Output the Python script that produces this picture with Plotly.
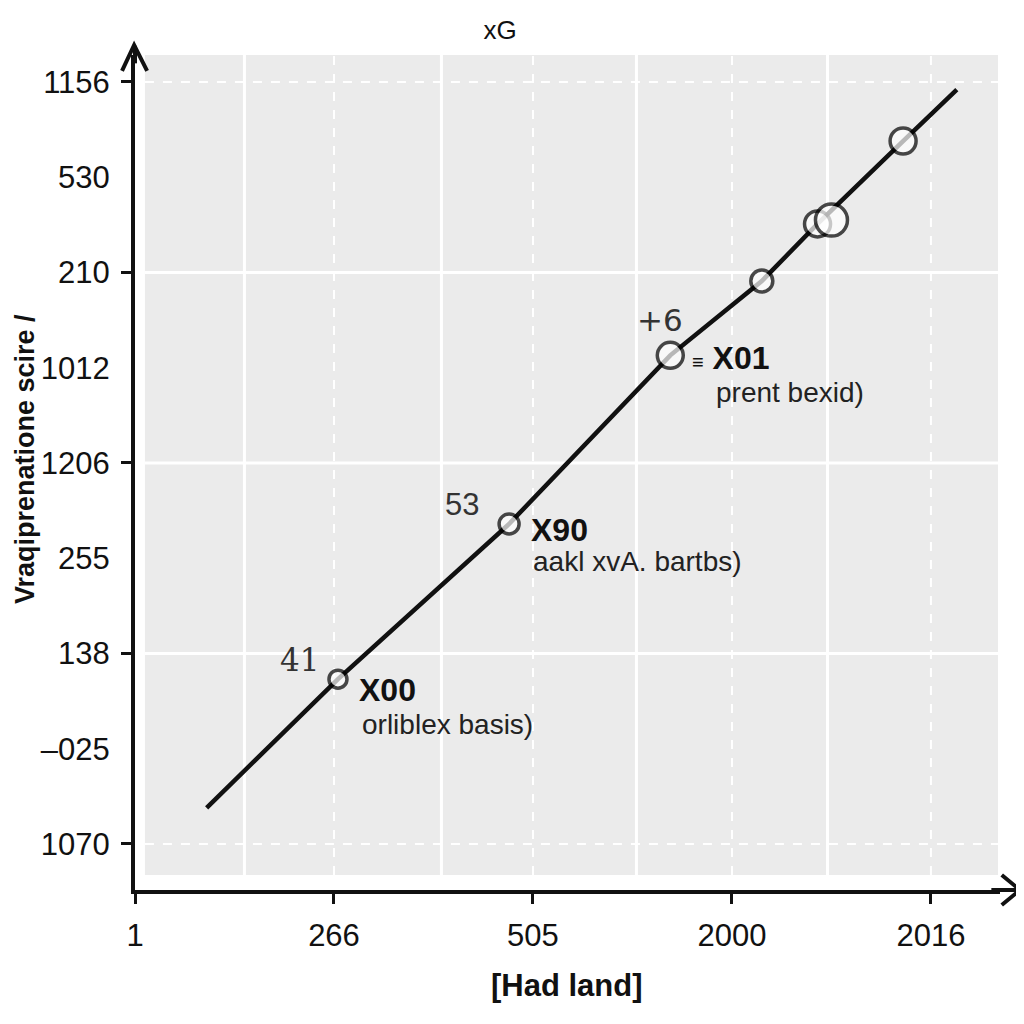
import plotly.graph_objects as go

# ---------------- data ----------------
y_tick_labels = ["1070", "\u2013025", "138", "255", "1206", "1012", "210", "530", "1156"]
x_tick_labels = ["1", "266", "505", "2000", "2016"]

line_x = [0.36, 1.02, 1.88, 2.69, 3.15, 3.43, 3.86, 4.13]
line_y = [0.38, 1.73, 3.36, 5.13, 5.91, 6.51, 7.38, 7.92]

point_x = [1.02, 1.88, 2.69, 3.15, 3.43, 3.50, 3.86]
point_y = [1.73, 3.36, 5.13, 5.91, 6.51, 6.55, 7.38]
point_size = [18, 20, 26, 22, 26, 32, 26]

labels_num = ["41", "53", "+6"]
labels_code = ["X00", "X90", "X01"]
labels_desc = ["orliblex basis)", "aakl xvA. bartbs)", "prent bexid)"]

grid_solid_x = [0.55, 1.54, 2.52, 3.48]
grid_dash_x = [1, 2, 3, 4]
grid_solid_y = [2, 4, 6]
grid_dash_y = [0, 8]

title_text = "xG"
x_title = "[Had land]"
y_title = "Vraqiprenatione scire /"

# ---------------- figure ----------------
FONT = "Liberation Sans, Arial, sans-serif"
INK = "#111111"

fig = go.Figure()

fig.add_trace(go.Scatter(x=line_x, y=line_y, mode="lines",
                         line=dict(color=INK, width=4.5), hoverinfo="skip",
                         showlegend=False))
fig.add_trace(go.Scatter(x=point_x, y=point_y, mode="markers",
                         marker=dict(size=point_size, color="white",
                                     line=dict(color="#000000", width=3.5)),
                         showlegend=False))

X_RANGE = [0, 4.347]
Y_RANGE = [-0.483, 8.283]

shapes = []
# grey panel
shapes.append(dict(type="rect", xref="x", yref="y", x0=0.05, x1=4.337,
                   y0=-0.325, y1=Y_RANGE[1], fillcolor="#ebebeb",
                   line=dict(width=0), layer="below"))
for gx in grid_solid_x:
    shapes.append(dict(type="line", xref="x", yref="y", x0=gx, x1=gx,
                       y0=-0.325, y1=Y_RANGE[1],
                       line=dict(color="white", width=3), layer="below"))
for gx in grid_dash_x:
    shapes.append(dict(type="line", xref="x", yref="y", x0=gx, x1=gx,
                       y0=-0.325, y1=Y_RANGE[1],
                       line=dict(color="white", width=2, dash="dash"), layer="below"))
for gy in grid_solid_y:
    shapes.append(dict(type="line", xref="x", yref="y", x0=0.05, x1=4.337,
                       y0=gy, y1=gy,
                       line=dict(color="white", width=3), layer="below"))
for gy in grid_dash_y:
    shapes.append(dict(type="line", xref="x", yref="y", x0=0.05, x1=4.337,
                       y0=gy, y1=gy,
                       line=dict(color="white", width=2, dash="dash"), layer="below"))

# axis arrows (paper coords)
shapes.append(dict(type="line", xref="paper", yref="paper", x0=0, x1=0,
                   y0=0.99, y1=1.011, line=dict(color=INK, width=4)))
shapes.append(dict(type="path", xref="paper", yref="paper",
                   path="M -0.015 0.981 L -0.001 1.012 L 0.014 0.981",
                   line=dict(color=INK, width=4)))
shapes.append(dict(type="line", xref="paper", yref="paper", x0=0.99, x1=1.022,
                   y0=0, y1=0, line=dict(color=INK, width=4)))
shapes.append(dict(type="path", xref="paper", yref="paper",
                   path="M 1.002 0.018 L 1.023 0 L 1.002 -0.018",
                   line=dict(color=INK, width=4)))

annotations = []
num_shift = [(-38, 19), (-47, 19), (-10, 35)]
code_shift = [(19, -11), (20, -6), (20, -3)]
desc_shift = [(22, -45), (22, -38), (44, -37)]
num_fonts = ["DejaVu Serif", FONT, "DejaVu Sans"]
for k in range(len(labels_code)):
    px_, py_ = point_x[k], point_y[k]
    annotations.append(dict(x=px_, y=py_, xref="x", yref="y", text=labels_num[k],
                            showarrow=False, xshift=num_shift[k][0],
                            yshift=num_shift[k][1],
                            font=dict(family=num_fonts[k], size=31, color="#333333")))
    code_txt = "<b>" + labels_code[k] + "</b>"
    if k == 2:
        code_txt = "<span style='font-size:20px'>\u2261</span> " + code_txt
    annotations.append(dict(x=px_, y=py_, xref="x", yref="y", text=code_txt,
                            showarrow=False, xanchor="left",
                            xshift=code_shift[k][0], yshift=code_shift[k][1],
                            font=dict(family=FONT, size=32, color=INK)))
    annotations.append(dict(x=px_, y=py_, xref="x", yref="y", text=labels_desc[k],
                            showarrow=False, xanchor="left",
                            xshift=desc_shift[k][0], yshift=desc_shift[k][1],
                            font=dict(family=FONT, size=28, color="#222222")))

# axis titles
annotations.append(dict(x=-0.1272, y=0.516, xref="paper", yref="paper",
                        text="<b>" + y_title + "</b>", textangle=-90,
                        showarrow=False, xanchor="center", yanchor="middle",
                        font=dict(family=FONT, size=27, color=INK)))
annotations.append(dict(x=0.499, y=-0.114, xref="paper", yref="paper",
                        text="<b>" + x_title + "</b>",
                        showarrow=False, xanchor="center", yanchor="middle",
                        font=dict(family="Liberation Sans Narrow, Arial Narrow, " + FONT,
                                  size=31, color=INK)))

fig.update_layout(
    width=1024, height=1024,
    margin=dict(l=127, r=32, t=47, b=142),
    paper_bgcolor="white", plot_bgcolor="white",
    title=dict(text=title_text, x=0.422, xref="paper", y=0.9785, yref="container",
               xanchor="center", yanchor="middle",
               font=dict(family=FONT, size=26, color=INK)),
    shapes=shapes, annotations=annotations,
    showlegend=False,
    xaxis=dict(range=X_RANGE, tickmode="array", tickvals=list(range(len(x_tick_labels))),
               ticktext=x_tick_labels, showgrid=False, zeroline=False,
               showline=True, linecolor=INK, linewidth=4, automargin=False,
               ticks="outside", ticklen=10, tickwidth=3, tickcolor=INK,
               ticklabelstandoff=5,
               tickfont=dict(family=FONT, size=31, color=INK)),
    yaxis=dict(range=Y_RANGE, tickmode="array", tickvals=list(range(len(y_tick_labels))),
               ticktext=y_tick_labels, showgrid=False, zeroline=False,
               showline=True, linecolor=INK, linewidth=4, automargin=False,
               ticks="outside", ticklen=10, tickwidth=3, tickcolor="rgba(0,0,0,0)",
               ticklabelstandoff=5,
               minor=dict(tickmode="array", tickvals=[0, 2, 4, 6, 8], ticks="outside",
                          ticklen=10, tickwidth=3, tickcolor=INK, showgrid=False),
               tickfont=dict(family=FONT, size=31, color=INK)),
)

fig.write_html("out.html")
